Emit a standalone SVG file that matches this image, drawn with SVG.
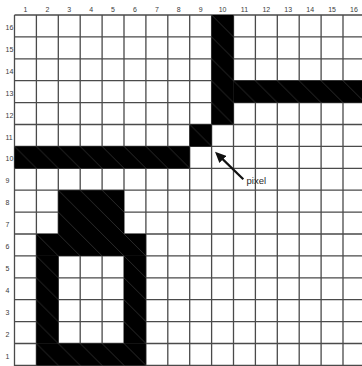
<svg xmlns="http://www.w3.org/2000/svg" width="362" height="366" viewBox="0 0 362 366">
<style>
.grid{stroke:#4a4a4a;stroke-width:1.3;fill:none}
.lbl{font-family:"Liberation Sans",Arial,sans-serif;font-size:7px;fill:#3a3a3a}
.top{text-anchor:middle}
.px{fill:url(#hatch);stroke:none}
.note{font-family:"Liberation Sans",Arial,sans-serif;font-size:9.5px;fill:#2a2a2a}
.conn{stroke:#111;stroke-width:2.2;fill:none}
</style>
<defs>
<pattern id="hatch" patternUnits="userSpaceOnUse" x="14.5" y="15" width="21.9" height="21.9">
<rect width="21.9" height="21.9" fill="#000"/>
<path d="M0 0L21.9 21.9" stroke="#3c3c3c" stroke-width="0.7"/>
</pattern>
<marker id="ah" markerUnits="userSpaceOnUse" markerWidth="12" markerHeight="10" refX="5" refY="5" orient="auto">
<path d="M0 0L11 5L0 10z" fill="#111"/>
</marker>
</defs>
<rect width="362" height="366" fill="#fff"/>
<g id="grid">
<path class="grid" d="M14.5 15V366M36.4 15V366M58.3 15V366M80.2 15V366M102.1 15V366M124 15V366M145.9 15V366M167.8 15V366M189.7 15V366M211.6 15V366M233.5 15V366M255.4 15V366M277.3 15V366M299.2 15V366M321.1 15V366M343 15V366M14.5 15H362M14.5 36.9H362M14.5 58.8H362M14.5 80.7H362M14.5 102.6H362M14.5 124.5H362M14.5 146.4H362M14.5 168.3H362M14.5 190.2H362M14.5 212.1H362M14.5 234H362M14.5 255.9H362M14.5 277.8H362M14.5 299.7H362M14.5 321.6H362M14.5 343.5H362M14.5 365.4H362"/>
</g>
<g id="pixels">
<rect class="px" x="211.6" y="15" width="21.9" height="109.5"/>
<rect class="px" x="233.5" y="80.7" width="131.4" height="21.9"/>
<rect class="px" x="189.7" y="124.5" width="21.9" height="21.9"/>
<rect class="px" x="14.5" y="146.4" width="175.2" height="21.9"/>
<rect class="px" x="58.3" y="190.2" width="65.7" height="43.8"/>
<rect class="px" x="36.4" y="234" width="109.5" height="21.9"/>
<rect class="px" x="36.4" y="255.9" width="21.9" height="87.6"/>
<rect class="px" x="124" y="255.9" width="21.9" height="87.6"/>
<rect class="px" x="36.4" y="343.5" width="109.5" height="21.9"/>
</g>
<g id="col-labels" class="lbl top">
<text x="25.45" y="12">1</text><text x="47.35" y="12">2</text><text x="69.25" y="12">3</text><text x="91.15" y="12">4</text><text x="113.05" y="12">5</text><text x="134.95" y="12">6</text><text x="156.85" y="12">7</text><text x="178.75" y="12">8</text><text x="200.65" y="12">9</text><text x="222.55" y="12">10</text><text x="244.45" y="12">11</text><text x="266.35" y="12">12</text><text x="288.25" y="12">13</text><text x="310.15" y="12">14</text><text x="332.05" y="12">15</text><text x="353.95" y="12">16</text>
</g>
<g id="row-labels" class="lbl">
<text x="5.5" y="30">16</text><text x="5.5" y="51.9">15</text><text x="5.5" y="73.8">14</text><text x="5.5" y="95.7">13</text><text x="5.5" y="117.6">12</text><text x="5.5" y="139.5">11</text><text x="5.5" y="161.4">10</text><text x="5.5" y="183.3">9</text><text x="5.5" y="205.2">8</text><text x="5.5" y="227.1">7</text><text x="5.5" y="249">6</text><text x="5.5" y="270.9">5</text><text x="5.5" y="292.8">4</text><text x="5.5" y="314.7">3</text><text x="5.5" y="336.6">2</text><text x="5.5" y="358.5">1</text>
</g>
<g id="connectors">
<line class="conn" x1="243.3" y1="179.3" x2="219.3" y2="155.9" marker-end="url(#ah)"/>
</g>
<g id="pixel-label">
<text class="note" x="246.5" y="184">pixel</text>
</g>
</svg>
